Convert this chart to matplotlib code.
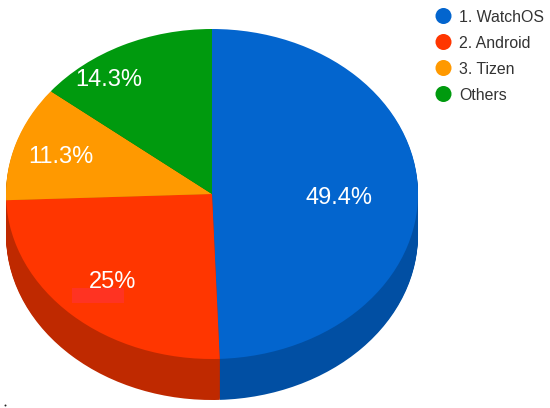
import matplotlib
matplotlib.use('Agg')
import matplotlib.pyplot as plt
import numpy as np
from matplotlib.patches import Rectangle

plt.rcParams['font.family'] = ['Liberation Sans', 'DejaVu Sans']

labels = ['1. WatchOS', '2. Android', '3. Tizen', 'Others']
shares = [49.4, 25, 11.3, 14.3]
share_text = ['49.4%', '25%', '11.3%', '14.3%']

colors = ['#0365CE', '#FF3600', '#FF9900', '#009A0E']
side_colors = ['#014FA3', '#BF2900', '#BF7300', '#007300']

W, H = 550, 408
cx, cy = 212, 194      # centro de la elipse en pixeles
rx, ry = 206, 165
depth = 41

fig = plt.figure(figsize=(W / 100, H / 100), dpi=100)

# pie en un eje sin aspecto igual, asi queda aplastado
ax = fig.add_axes([0, 0, 1, 1])
for d in np.arange(depth, 0, -1.0):
    ax.pie(shares, colors=side_colors, startangle=90, counterclock=False,
           center=(0, -d / ry), wedgeprops={'linewidth': 0})
ax.pie(shares, colors=colors, startangle=90, counterclock=False,
       wedgeprops={'linewidth': 0})
ax.set_aspect('auto')
ax.set_xlim(-cx / rx, (W - cx) / rx)
ax.set_ylim(-(H - cy) / ry, cy / ry)
ax.axis('off')

# eje encima en pixeles para textos y leyenda
top = fig.add_axes([0, 0, 1, 1])
top.set_xlim(0, W)
top.set_ylim(H, 0)
top.axis('off')
top.patch.set_alpha(0)

# mancha rojiza debajo del 25%
top.add_patch(Rectangle((72, 288), 52, 15, color='#FF3322', linewidth=0))

label_pos = [(338.5, 198), (113, 282), (61, 157), (109, 80)]
for (x, y), s in zip(label_pos, share_text):
    top.text(x, y, s, color='white', fontsize=17, ha='center', va='center')

legend_y = [16, 42, 68, 94]
top.scatter([443.5] * 4, legend_y, s=133, c=colors, linewidths=0)
for y, name in zip(legend_y, labels):
    top.text(459, y + 2, name, color='#333333', fontsize=11.4, ha='left', va='center')

top.scatter([4.5], [405], s=2, c='#222222', linewidths=0)

fig.savefig('out.png', dpi=100, facecolor='white')
